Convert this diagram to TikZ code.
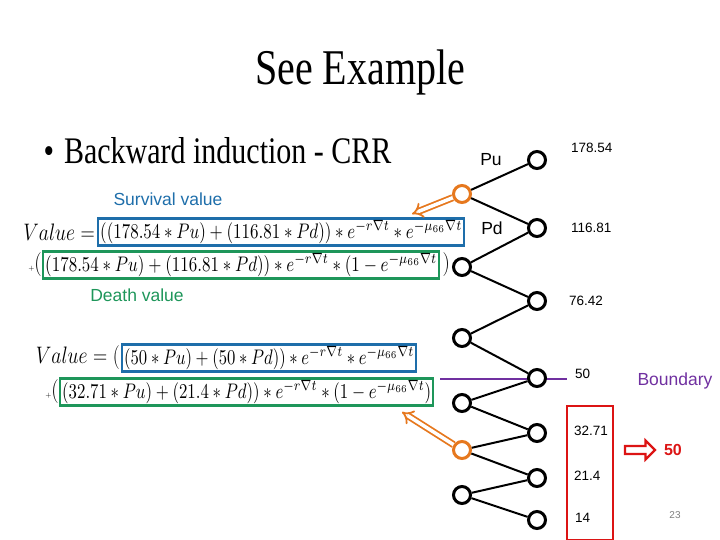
\documentclass[tikz,border=0pt]{standalone}
\usepackage{amsmath}
\usepackage{fontspec}
\setmainfont{Liberation Serif}
\setsansfont{Liberation Sans}
\usetikzlibrary{positioning,arrows.meta,shapes.arrows}
\definecolor{survblue}{RGB}{30,110,170}
\definecolor{deathgreen}{RGB}{30,150,90}
\definecolor{bndpurple}{RGB}{112,48,160}
\definecolor{arrorange}{RGB}{230,120,30}
\definecolor{valred}{RGB}{220,20,20}
\newcommand{\dtt}{\nabla t}

\begin{document}
\begin{tikzpicture}[x=1pt, y=-1pt,
    lat/.style={circle, draw, fill=white, line width=3pt, minimum size=17pt, inner sep=0pt},
    cur/.style={lat, draw=arrorange},
    edge/.style={draw, line width=2pt},
    survbox/.style={draw=survblue, line width=2.4pt, inner sep=2pt, anchor=west},
    deathbox/.style={draw=deathgreen, line width=2.4pt, inner sep=2pt, anchor=west},
    tag/.style={font=\sffamily\fontsize{17.5}{20}\selectfont},
    val/.style={font=\sffamily\fontsize{13.5}{15}\selectfont, anchor=west, inner sep=0pt},
    back/.style={draw=arrorange, line width=1.8pt, double=white, double distance=3.5pt, -{Implies}},
    formula/.style={font=\fontsize{22}{26}\selectfont, inner sep=0pt}
]
    \useasboundingbox (0,0) rectangle (720,540);

    % title and bullet
    \node (title) at (360,72) {\fontsize{40}{44}\selectfont\scalebox{1}[1.25]{See Example}};
    \node [anchor=west] (bullet) at (40,151) {\fontsize{30}{34}\selectfont\scalebox{1}[1.25]{\textbullet\hspace{10pt}Backward induction - CRR}};

    % lattice
    \foreach \n/\y/\s in {1/194/cur, 2/267/lat, 3/338/lat, 4/403/lat, 5/450/cur, 6/495/lat}
        \node [\s] (L\n) at (462,\y) {};
    \coordinate (b0) at (440,379);
    \coordinate (b1) at (567,379);
    \draw [bndpurple, line width=2.4pt] (b0) -- (b1);
    \foreach \n/\y in {1/160, 2/228, 3/301, 4/378, 5/433, 6/478, 7/520}
        \node [lat] (R\n) at (537,\y) {};
    \foreach \l/\a/\b in {1/1/2, 2/2/3, 3/3/4, 4/4/5, 5/5/6, 6/6/7}
        \path [edge] (L\l) -- (R\a) (L\l) -- (R\b);

    \node [tag] (pu) at (491,160) {Pu};
    \node [tag] (pd) at (492,228) {Pd};

    \node [val] (v1) at (571,148) {178.54};
    \node [val] (v2) at (571,228) {116.81};
    \node [val] (v3) at (569,301) {76.42};
    \node [val] (v4) at (575,374) {50};
    \node [val] (v5) at (574,431) {32.71};
    \node [val] (v6) at (574,476) {21.4};
    \node [val] (v7) at (575,518) {14};

    \node [tag, bndpurple] (bnd) at (675,381) {Boundary};
    \node [draw=valred, line width=2.4pt, minimum width=46pt, minimum height=134pt] (lowbox) at (590,473) {};
    \node [single arrow, draw=valred, line width=2.2pt, fill=white, minimum height=30pt, minimum width=19pt,
           single arrow head extend=3pt, inner sep=1pt] (rarr) at (638,450) {};
    \node [right=4pt of rarr, font=\sffamily\bfseries\fontsize{16}{18}\selectfont, valred] (fifty) {50};
    \node [font=\sffamily\fontsize{10}{12}\selectfont, gray] (page) at (675,515) {23};

    % formulas
    \node [tag, survblue] (survlbl) at (168,199) {Survival value};
    \node [formula, anchor=east] (val1) at (95,232) {\scalebox{0.95}[1.15]{$Value=$}};
    \node [survbox] (s1) at (97,232) {\resizebox*{362pt}{23pt}{$((178.54*Pu)+(116.81*Pd))*e^{-r\dtt}*e^{-\mu_{66}\dtt}$}};
    \node [formula, anchor=east] (plus1) at (42,265) {{\scriptsize$+$}\scalebox{1}[1.15]{$($}};
    \node [deathbox] (d1) at (42,265) {\resizebox*{392pt}{23pt}{$(178.54*Pu)+(116.81*Pd))*e^{-r\dtt}*(1-e^{-\mu_{66}\dtt}$}};
    \node [formula, right=2pt of d1] (close1) {\scalebox{1}[1.15]{$)$}};
    \node [tag, deathgreen] (deathlbl) at (137,295) {Death value};

    \node [formula, anchor=east] (val2) at (120,358) {\scalebox{0.95}[1.15]{$Value=($}};
    \node [survbox] (s2) at (121,358) {\resizebox*{290pt}{23pt}{$(50*Pu)+(50*Pd))*e^{-r\dtt}*e^{-\mu_{66}\dtt}$}};
    \node [formula, anchor=east] (plus2) at (59,392) {{\scriptsize$+$}\scalebox{1}[1.15]{$($}};
    \node [deathbox] (d2) at (59,392) {\resizebox*{369pt}{23pt}{$(32.71*Pu)+(21.4*Pd))*e^{-r\dtt}*(1-e^{-\mu_{66}\dtt})$}};

    % back-propagation arrows
    \coordinate (a1) at (412,214);
    \coordinate (a2) at (402,412);
    \draw [back] (L1) -- (a1);
    \draw [back] (L5) -- (a2);
\end{tikzpicture}
\end{document}
